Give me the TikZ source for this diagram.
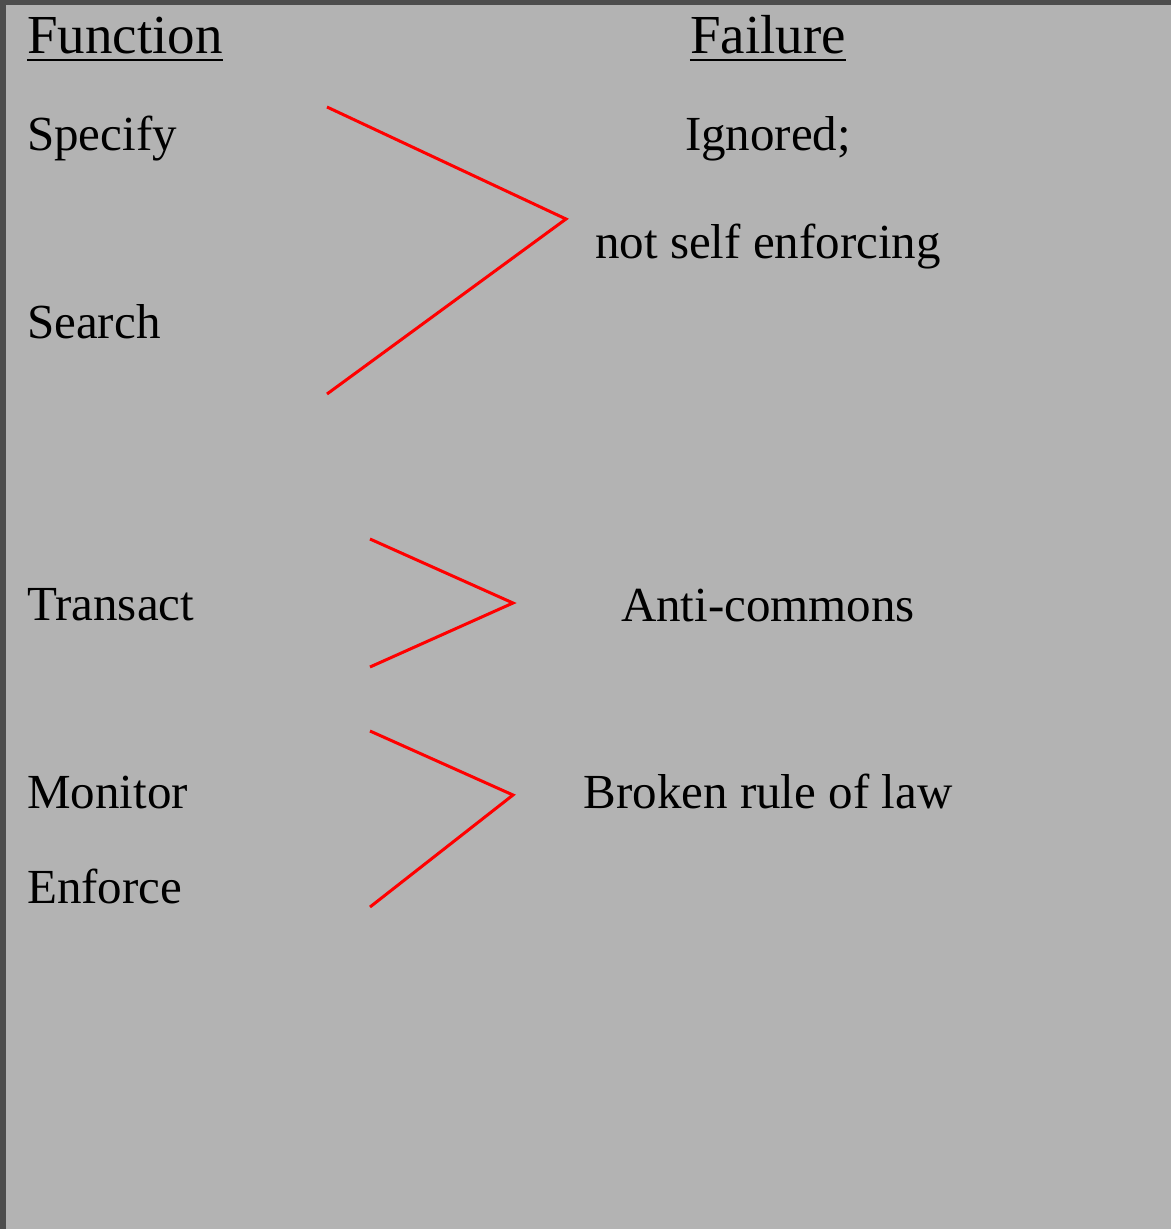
\documentclass[tikz,border=0pt]{standalone}
\usepackage{fontspec}
\setmainfont{Liberation Serif}
\definecolor{bggray}{HTML}{B3B3B3}
\definecolor{framegray}{HTML}{4D4D4D}
\begin{document}
\begin{tikzpicture}[x=1pt,y=-1pt,
  body/.style={inner sep=0pt,font=\fontsize{49}{59}\selectfont},
  head/.style={inner sep=0pt,font=\fontsize{55}{66}\selectfont},
  link/.style={red,line width=3pt,line join=miter}]
\useasboundingbox (0,0) rectangle (1171,1229);
\fill[framegray] (0,0) rectangle (1171,1229);
\fill[bggray] (6,5) rectangle (1171,1229);
% headers
\node[head,anchor=base west] (fun) at (27,53) {Function};
\node[head,anchor=base] (fail) at (768,53) {Failure};
\draw[line width=2.6pt] ([yshift=-7pt]fun.base west) -- ([yshift=-7pt]fun.base east);
\draw[line width=2.6pt] ([yshift=-7pt]fail.base west) -- ([yshift=-7pt]fail.base east);
% left column
\node[body,anchor=base west] (spec) at (27,150) {Specify};
\node[body,anchor=base west] (srch) at (27,338) {Search};
\node[body,anchor=base west] (trans) at (27,620) {Transact};
\node[body,anchor=base west] (mon) at (27,808) {Monitor};
\node[body,anchor=base west] (enf) at (27,903) {Enforce};
% right column
\node[body,anchor=base] (ign) at (768,150) {Ignored;};
\node[body,anchor=base] (nse) at (768,258) {not self enforcing};
\node[body,anchor=base] (anti) at (768,621) {Anti-commons};
\node[body,anchor=base] (brk) at (768,808) {Broken rule of law};
% brackets
\coordinate (a1) at (327,107);
\coordinate (a2) at (566,219);
\coordinate (a3) at (327,394);
\coordinate (b1) at (370,539);
\coordinate (b2) at (513,603);
\coordinate (b3) at (370,667);
\coordinate (c1) at (370,731);
\coordinate (c2) at (513,795);
\coordinate (c3) at (370,907);
\draw[link] (a1) -- (a2) -- (a3);
\draw[link] (b1) -- (b2) -- (b3);
\draw[link] (c1) -- (c2) -- (c3);
\end{tikzpicture}
\end{document}
